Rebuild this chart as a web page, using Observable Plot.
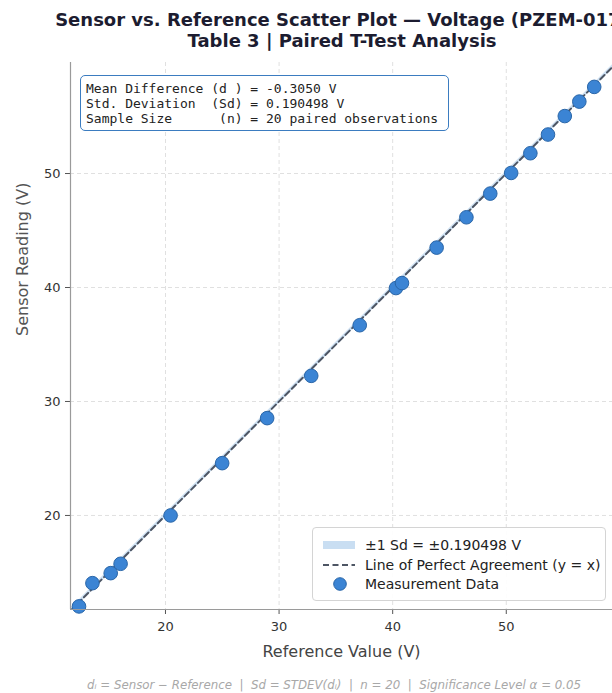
<!DOCTYPE html>
<html>
<head>
<meta charset="utf-8">
<script src="https://cdn.jsdelivr.net/npm/d3@7"></script>
<script src="https://cdn.jsdelivr.net/npm/@observablehq/plot@0.6"></script>
<style>
  html, body { margin: 0; padding: 0; background: #fff; overflow: hidden; }
  #wrap { position: relative; width: 612px; height: 693px; overflow: hidden; font-family: "DejaVu Sans", sans-serif; }
  #title { width: 684px; padding-top: 9px; height: 47px; text-align: center; font-weight: bold; font-size: 18px; line-height: 21px; color: #1c1c30; white-space: nowrap; }
  #chart svg { display: block; }
  #caption { width: 668px; padding-top: 3px; text-align: center; font-style: italic; font-size: 11.8px; line-height: 14px; color: #a8a8a8; white-space: pre; }
  #stats { position: absolute; left: 80px; top: 75px; width: 357px; height: 46px; padding: 5px 5px 3px 5px; border: 1.5px solid #3b7cc0; border-radius: 5px; background: #fff;
           font-family: "DejaVu Sans Mono", monospace; font-size: 13px; line-height: 15px; color: #222; white-space: pre; }
  #legend { position: absolute; left: 312px; top: 527px; width: 292px; height: 72px; border: 1px solid #d4d4d4; border-radius: 4px; background: rgba(255,255,255,0.9);
            font-size: 14px; color: #222; }
  .lrow { position: absolute; left: 10px; height: 20px; display: flex; align-items: center; white-space: nowrap; }
  .lrow svg { margin-right: 10px; }
</style>
</head>
<body>
<div id="wrap">
  <div id="title">Sensor vs. Reference Scatter Plot — Voltage (PZEM-017)<br>Table 3 | Paired T-Test Analysis</div>
  <div id="chart"></div>
  <div id="caption">dᵢ = Sensor − Reference  |  Sd = STDEV(dᵢ)  |  n = 20  |  Significance Level α = 0.05</div>
  <div id="stats"></div>
  <div id="legend"></div>
</div>
<script>
// ---- data ----
const referenceV = [12.39, 13.57, 15.18, 16.05, 20.45, 24.99, 28.95, 32.83, 37.10, 40.29,
                    40.82, 43.87, 46.49, 48.59, 50.43, 52.12, 53.67, 55.15, 56.43, 57.74];
const sensorV    = [12.02, 14.06, 14.94, 15.76, 20.00, 24.59, 28.54, 32.25, 36.69, 39.95,
                    40.39, 43.50, 46.16, 48.24, 50.05, 51.78, 53.42, 55.04, 56.31, 57.60];
const xTicks = [20, 30, 40, 50];
const yTicks = [20, 30, 40, 50];
const xDomain = [11.64, 59.35];
const yDomain = [11.75, 59.74];
const meanDiff = -0.3050;
const stdDiff = 0.190498;
const nObs = 20;
const statLines = [
  `Mean Difference (d ) = ${meanDiff.toFixed(4)} V`,
  `Std. Deviation  (Sd) = ${stdDiff} V`,
  `Sample Size      (n) = ${nObs} paired observations`
];
const legendLabels = [`±1 Sd = ±${stdDiff} V`, "Line of Perfect Agreement (y = x)", "Measurement Data"];

const points = referenceV.map((r, i) => ({ref: r, sensor: sensorV[i]}));
const lineX = [Math.min(xDomain[0], yDomain[0]), Math.max(xDomain[1], yDomain[1])];

const blue = "#3b84d4", blueStroke = "#2a66a8";

const chart = Plot.plot({
  width: 612,
  height: 619,
  marginTop: 6,
  marginBottom: 66,
  marginLeft: 70,
  marginRight: 0,
  style: { fontFamily: "DejaVu Sans", fontSize: "13px", color: "#333", background: "#fff" },
  x: { domain: xDomain, label: null },
  y: { domain: yDomain, label: null },
  marks: [
    Plot.ruleX(xTicks, { stroke: "#e0e0e0", strokeDasharray: "4,3", strokeWidth: 1 }),
    Plot.ruleY(yTicks, { stroke: "#e0e0e0", strokeDasharray: "4,3", strokeWidth: 1 }),
    Plot.areaY(lineX, { x: d => d, y1: d => d - stdDiff, y2: d => d + stdDiff, fill: "#c9def2", fillOpacity: 0.9, clip: true }),
    Plot.line(lineX, { x: d => d, y: d => d, stroke: "#4e5664", strokeWidth: 2, strokeDasharray: "6,3.5", clip: true }),
    Plot.dot(points, { x: "ref", y: "sensor", r: 6.8, fill: blue, stroke: blueStroke, strokeWidth: 1, fillOpacity: 1 }),
    Plot.axisX(xTicks, { tickSize: 5, tickPadding: 7, stroke: "#555", fontSize: 13, label: null }),
    Plot.axisY(yTicks, { tickSize: 5, tickPadding: 5, stroke: "#555", fontSize: 13, label: null }),
    Plot.ruleX([xDomain[0]], { stroke: "#9a9a9a", strokeWidth: 1.2 }),
    Plot.ruleY([yDomain[0]], { stroke: "#9a9a9a", strokeWidth: 1.2 }),
    Plot.text(["Reference Value (V)"], { frameAnchor: "bottom", dy: 47, fontSize: 16, fill: "#444" }),
    Plot.text(["Sensor Reading (V)"], { frameAnchor: "left", dx: -48, rotate: -90, fontSize: 16, fill: "#555" })
  ]
});
document.getElementById("chart").appendChild(chart);

document.getElementById("stats").textContent = statLines.join("\n");

const legend = document.getElementById("legend");
const swatches = [
  `<svg width="32" height="10"><rect x="0" y="1" width="32" height="8" fill="#c9def2"/></svg>`,
  `<svg width="32" height="10"><line x1="0" y1="5" x2="32" y2="5" stroke="#4e5664" stroke-width="2" stroke-dasharray="6,3.5"/></svg>`,
  `<svg width="32" height="14"><circle cx="17" cy="7" r="6.3" fill="${blue}" stroke="${blueStroke}" stroke-width="1"/></svg>`
];
legendLabels.forEach((lab, i) => {
  const row = document.createElement("div");
  row.className = "lrow";
  row.style.top = (7 + i * 19.5) + "px";
  row.innerHTML = swatches[i] + `<span>${lab}</span>`;
  legend.appendChild(row);
});
</script>
</body>
</html>
